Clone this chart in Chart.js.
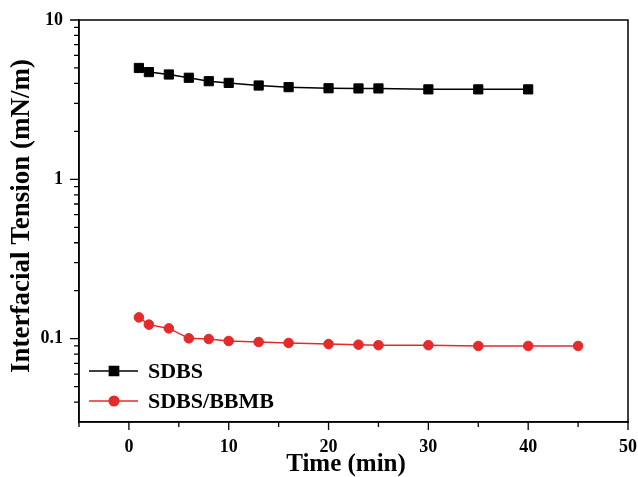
<!DOCTYPE html>
<html>
<head>
<meta charset="utf-8">
<script src="https://cdn.jsdelivr.net/npm/chart.js@4.4.1/dist/chart.umd.min.js"></script>
<style>
html,body{margin:0;padding:0;background:#fff;}
#wrap{width:638px;height:477px;position:relative;}
</style>
</head>
<body>
<div id="wrap"><canvas id="c" width="638" height="477"></canvas></div>
<script>
// ---- data ----
const sdbsTime = [1, 2, 4, 6, 8, 10, 13, 16, 20, 23, 25, 30, 35, 40];
const sdbsTension = [5.0, 4.71, 4.55, 4.34, 4.13, 4.03, 3.88, 3.79, 3.73, 3.72, 3.72, 3.67, 3.67, 3.67];
const mixTime = [1, 2, 4, 6, 8, 10, 13, 16, 20, 23, 25, 30, 35, 40, 45];
const mixTension = [0.136, 0.1225, 0.116, 0.1005, 0.0995, 0.0967, 0.0953, 0.094, 0.0925, 0.0917, 0.091, 0.091, 0.090, 0.090, 0.090];
const xMajorTicks = [0, 10, 20, 30, 40, 50];
const xMinorTicks = [-5, 5, 15, 25, 35, 45];
const yMajorTicks = [0.1, 1, 10];
const yMinorTicks = [0.04,0.05,0.06,0.07,0.08,0.09,0.2,0.3,0.4,0.5,0.6,0.7,0.8,0.9,2,3,4,5,6,7,8,9];
const seriesLabels = ['SDBS', 'SDBS/BBMB'];
const xTitle = 'Time (min)';
const yTitle = 'Interfacial Tension (mN/m)';

const FONT = '"Liberation Serif", "Times New Roman", serif';
const RED = '#e42a2a';

function zeroPad(s) { s.paddingTop = 0; s.paddingBottom = 0; s.paddingLeft = 0; s.paddingRight = 0; }

const decor = {
  id: 'decor',
  afterDraw(chart) {
    const ctx = chart.ctx;
    const a = chart.chartArea;
    const xs = chart.scales.x, ys = chart.scales.y;
    ctx.save();
    ctx.strokeStyle = '#000';
    ctx.lineWidth = 1.5;
    // frame
    ctx.strokeRect(a.left, a.top, a.right - a.left, a.bottom - a.top);
    // ticks
    ctx.lineWidth = 1.3;
    ctx.beginPath();
    xMajorTicks.forEach(v => { const p = xs.getPixelForValue(v); ctx.moveTo(p, a.bottom); ctx.lineTo(p, a.bottom + 8); });
    xMinorTicks.forEach(v => { const p = xs.getPixelForValue(v); ctx.moveTo(p, a.bottom); ctx.lineTo(p, a.bottom + 5); });
    yMajorTicks.forEach(v => { const p = ys.getPixelForValue(v); ctx.moveTo(a.left, p); ctx.lineTo(a.left - 9, p); });
    yMinorTicks.forEach(v => { const p = ys.getPixelForValue(v); ctx.moveTo(a.left, p); ctx.lineTo(a.left - 5, p); });
    ctx.stroke();
    // axis titles
    ctx.fillStyle = '#000';
    ctx.textAlign = 'center';
    ctx.textBaseline = 'middle';
    ctx.font = 'bold 25px ' + FONT;
    ctx.fillText(xTitle, 346, 465);
    ctx.save();
    ctx.translate(22, 216);
    ctx.rotate(-Math.PI / 2);
    ctx.font = 'bold 27px ' + FONT;
    ctx.fillText(yTitle, 0, 0);
    ctx.restore();
    // legend
    const rows = [371, 401];
    chart.data.datasets.forEach((ds, i) => {
      const y = rows[i];
      ctx.strokeStyle = ds.borderColor;
      ctx.lineWidth = ds.borderWidth;
      ctx.beginPath(); ctx.moveTo(89, y); ctx.lineTo(138, y); ctx.stroke();
      ctx.fillStyle = ds.pointBackgroundColor;
      ctx.strokeStyle = ds.pointBorderColor;
      Chart.helpers.drawPoint(ctx, { pointStyle: ds.pointStyle, radius: ds.pointRadius, borderWidth: 1 }, 114, y);
      ctx.fillStyle = '#000';
      ctx.textAlign = 'left';
      ctx.font = 'bold 22px ' + FONT;
      ctx.fillText(ds.label, 148, y + 1);
    });
    ctx.restore();
  }
};

new Chart(document.getElementById('c'), {
  type: 'line',
  data: {
    datasets: [
      {
        label: seriesLabels[0],
        data: sdbsTime.map((t, i) => ({ x: t, y: sdbsTension[i] })),
        borderColor: '#000', backgroundColor: '#000',
        pointBackgroundColor: '#000', pointBorderColor: '#000',
        borderWidth: 1.5, pointStyle: 'rect', pointRadius: 6.5, pointBorderWidth: 1
      },
      {
        label: seriesLabels[1],
        data: mixTime.map((t, i) => ({ x: t, y: mixTension[i] })),
        borderColor: RED, backgroundColor: RED,
        pointBackgroundColor: RED, pointBorderColor: RED,
        borderWidth: 1.5, pointStyle: 'circle', pointRadius: 4.8, pointBorderWidth: 1
      }
    ]
  },
  options: {
    responsive: false,
    animation: false,
    layout: { padding: { top: 20, right: 10, left: 0, bottom: 0 } },
    plugins: { legend: { display: false }, tooltip: { enabled: false } },
    scales: {
      x: {
        type: 'linear', min: -5, max: 50,
        grid: { display: false, drawTicks: false },
        border: { display: true, color: '#000', width: 1.5 },
        afterBuildTicks(s) { s.ticks = xMajorTicks.map(v => ({ value: v })); },
        afterFit(s) { s.height = 55; zeroPad(s); },
        ticks: { color: '#000', padding: 15, font: { family: FONT, size: 18, weight: 'bold' }, maxRotation: 0,
                 callback: v => String(v) }
      },
      y: {
        type: 'logarithmic', min: 0.03, max: 10,
        grid: { display: false, drawTicks: false },
        border: { display: true, color: '#000', width: 1.5 },
        afterBuildTicks(s) { s.ticks = yMajorTicks.map(v => ({ value: v })); },
        afterFit(s) { s.width = 79; zeroPad(s); },
        ticks: { color: '#000', padding: 16, font: { family: FONT, size: 18, weight: 'bold' },
                 callback: v => String(v) }
      }
    }
  },
  plugins: [decor]
});
</script>
</body>
</html>
